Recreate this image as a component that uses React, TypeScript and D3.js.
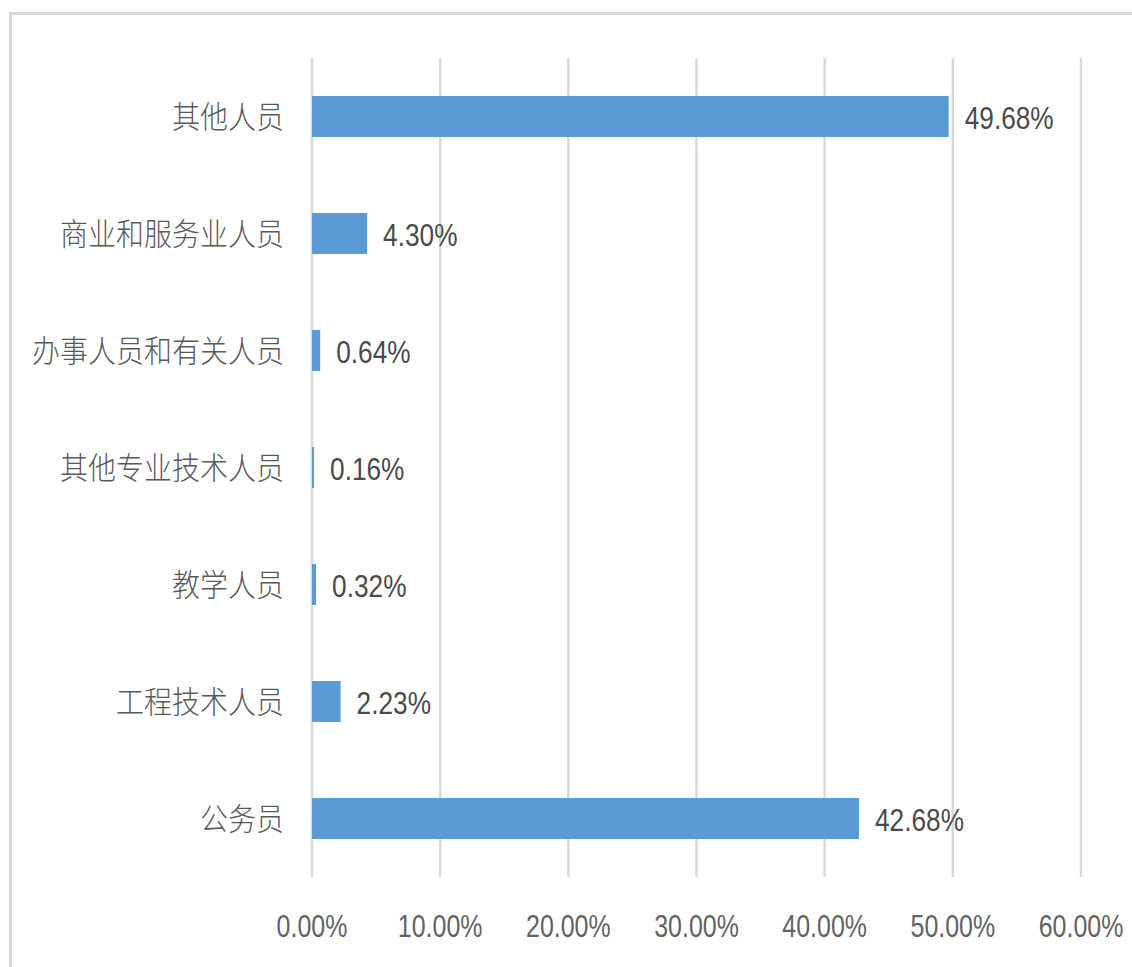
import React, { useEffect, useRef } from 'react';
import * as d3 from 'd3';

// categories top to bottom, values in percent
const categories = ['其他人员', '商业和服务业人员', '办事人员和有关人员', '其他专业技术人员', '教学人员', '工程技术人员', '公务员'];
const values = [49.68, 4.3, 0.64, 0.16, 0.32, 2.23, 42.68];
const ticks = [0, 10, 20, 30, 40, 50, 60];

const W = 1132, H = 967;

export default function App() {
    const ref = useRef<SVGSVGElement>(null);

    useEffect(() => {
        const svg = d3.select(ref.current);
        svg.selectAll('*').remove();

        // frame (only top and left edges show)
        svg.append('line').attr('x1', 10).attr('x2', W).attr('y1', 13.5).attr('y2', 13.5)
            .attr('stroke', '#d6d6d6').attr('stroke-width', 3);
        svg.append('line').attr('x1', 10.5).attr('x2', 10.5).attr('y1', 12).attr('y2', H)
            .attr('stroke', '#d6d6d6').attr('stroke-width', 3);

        const x = d3.scaleLinear().domain([0, 60]).range([312, 1081]);
        const y = d3.scaleBand<string>()
            .domain(categories)
            .range([58, 877])
            .paddingInner(0.65)
            .paddingOuter(0.325);

        // gridlines
        svg.append('g').selectAll('line').data(ticks).join('line')
            .attr('x1', (d) => x(d)).attr('x2', (d) => x(d))
            .attr('y1', 58).attr('y2', 877)
            .attr('stroke', '#d9d9d9').attr('stroke-width', 2.5);

        // tick labels
        svg.append('g').selectAll('text').data(ticks).join('text')
            .attr('transform', (d) => `translate(${x(d)},937) scale(0.78,1)`)
            .attr('text-anchor', 'middle')
            .attr('font-family', '"Liberation Sans", Arial, sans-serif')
            .attr('font-size', 32)
            .attr('fill', '#626262')
            .text((d) => d.toFixed(2) + '%');

        // bars
        svg.append('g').selectAll('rect').data(values).join('rect')
            .attr('x', x(0))
            .attr('y', (d, i) => y(categories[i])!)
            .attr('width', (d) => x(d) - x(0))
            .attr('height', y.bandwidth())
            .attr('fill', '#5b9bd5');

        // value labels
        svg.append('g').selectAll('text').data(values).join('text')
            .attr('transform', (d, i) => `translate(${x(d) + 16},${y(categories[i])! + y.bandwidth() / 2 + 12}) scale(0.82,1)`)
            .attr('font-family', '"Liberation Sans", Arial, sans-serif')
            .attr('font-size', 32)
            .attr('fill', '#4a4a4a')
            .text((d) => d.toFixed(2) + '%');

        // category labels
        svg.append('g').selectAll('text').data(categories).join('text')
            .attr('transform', (d) => `translate(284,${y(d)! + y.bandwidth() / 2 + 11}) scale(1,1.1)`)
            .attr('text-anchor', 'end')
            .attr('font-family', '"Noto Sans CJK SC", sans-serif')
            .attr('font-weight', 300)
            .attr('font-size', 28)
            .attr('fill', '#595959')
            .text((d) => d);
    }, []);

    return (
        <svg ref={ref} width={W} height={H}
            style={{ position: 'absolute', left: 0, top: 0, background: '#fff' }} />
    );
}
